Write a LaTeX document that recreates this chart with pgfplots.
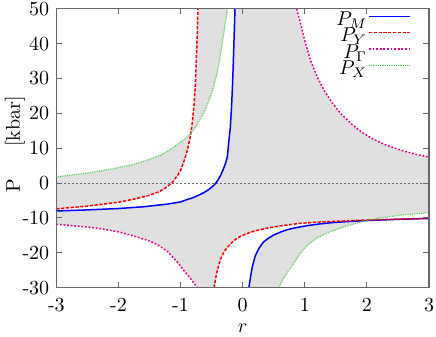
\documentclass[border=0pt]{standalone}
\usepackage{pgfplots}
\pgfplotsset{compat=1.18}
\definecolor{cX}{rgb}{0.3,0.8,0.3}
\definecolor{cY}{rgb}{1,0,0}
\definecolor{shade}{gray}{0.88}
\begin{document}
\begin{tikzpicture}
\begin{axis}[
  scale only axis, width=186.5pt, height=139.5pt,
  xmin=-3, xmax=3, ymin=-30, ymax=50,
  axis on top,
  tick align=inside, major tick length=2.8pt,
  xtick={-3,-2,-1,0,1,2,3}, xticklabels={-3,-2,-1,0,1,2,3},
  ytick={-30,-20,-10,0,10,20,30,40,50}, yticklabels={-30,-20,-10,0,10,20,30,40,50},
  axis line style={black!60, line width=0.6pt},
  every tick/.style={black!60, line width=0.5pt},
  xticklabel style={inner sep=1pt, yshift=-4.3pt},
  yticklabel style={inner sep=1pt, xshift=-2.4pt},
  xlabel={$r$}, xlabel style={at={(axis description cs:0.5,0)}, anchor=north, inner sep=2pt, yshift=-16pt},
  ylabel={P\hspace{16pt}[kbar]}, ylabel style={at={(axis description cs:-0.111,0.514)}, anchor=center, inner sep=2.5pt},
  legend style={draw=none, fill=none, at={(axis description cs:0.952,0.99)}, anchor=north east,
    inner sep=0pt, row sep=-0.2pt, column sep=0.6pt, nodes={inner sep=0pt}},
  legend plot pos=right, legend cell align=right,
  legend image code/.code={\draw[#1] (0pt,2pt) -- (20.5pt,2pt);},
  legend entries={$P_M$,$P_Y$,$P_\Gamma$,$P_X$},
]
\addlegendimage{blue, line width=0.75pt}
\addlegendimage{cY, line width=0.75pt, dash pattern=on 1.6pt off 0.8pt}
\addlegendimage{magenta, line width=0.75pt, dash pattern=on 0.9pt off 0.9pt}
\addlegendimage{cX, line width=0.6pt, dash pattern=on 0.4pt off 0.5pt}
% shaded regions (even-odd combination of the regions bounded by the four curves)
\addplot[fill=shade, draw=none, even odd rule, forget plot] coordinates {
(-3,-30)
(-3,-8.0) (-2.5,-7.7) (-2.0,-7.3) (-1.6,-6.8) (-1.2,-6.0) (-1.0,-5.4) (-0.89,-4.7) (-0.8,-4.2) (-0.7,-3.4) (-0.62,-2.7) (-0.55,-1.9) (-0.5,-1.2) (-0.45,-0.4) (-0.4,0.8) (-0.35,2.4) (-0.3,4.5) (-0.27,6.0) (-0.246,7.6) (-0.22,12.5) (-0.2,15.8) (-0.18,21.5) (-0.165,27.5) (-0.15,35) (-0.137,42.5) (-0.124,50)
(3,50)
(3.0,-10.15) (2.5,-10.4) (2.0,-10.75) (1.75,-11.0) (1.47,-11.3) (1.25,-11.7) (1.04,-12.2) (0.8,-13.0) (0.66,-13.7) (0.5,-14.9) (0.4,-16.0) (0.33,-17) (0.26,-18.8) (0.2,-21) (0.156,-24) (0.13,-26.5) (0.10,-30)
(-3,-30)
(-3,-7.4) (-2.5,-6.6) (-2.0,-5.5) (-1.75,-4.6) (-1.5,-3.5) (-1.35,-2.5) (-1.25,-1.5) (-1.13,0.2) (-1.05,2.2) (-1.0,3.6) (-0.95,6.0) (-0.9,8.8) (-0.85,12.6) (-0.81,17.5) (-0.78,23) (-0.76,29) (-0.745,36) (-0.73,43.5) (-0.72,50)
(3,50)
(3.0,-10.1) (2.5,-10.35) (2.0,-10.6) (1.6,-10.9) (1.2,-11.2) (0.9,-11.6) (0.6,-12.3) (0.4,-12.9) (0.2,-13.7) (0.1,-14.3) (0,-15.0) (-0.1,-15.9) (-0.2,-17.5) (-0.3,-19.7) (-0.36,-22) (-0.4,-24.5) (-0.43,-26.8) (-0.46,-30)
(-3,-30)
(-3,1.8) (-2.5,2.9) (-2.12,4.0) (-1.75,5.4) (-1.5,6.8) (-1.3,8.2) (-1.1,10.4) (-0.95,12.4) (-0.84,14.1) (-0.75,16.3) (-0.675,18.5) (-0.6,21.2) (-0.54,23.8) (-0.49,26.3) (-0.42,31.0) (-0.38,34.5) (-0.35,37.8) (-0.3,43.5) (-0.27,47) (-0.246,50)
(3,50)
(3.0,-8.5) (2.8,-8.8) (2.54,-9.2) (2.25,-9.9) (2.0,-10.7) (1.8,-11.7) (1.575,-12.9) (1.4,-14.0) (1.2,-15.7) (1.05,-17.7) (0.93,-20.1) (0.77,-24.4) (0.65,-27.5) (0.585,-30)
(-3,-30)
(-3,-11.8) (-2.5,-12.6) (-2.28,-13.1) (-2.0,-14.0) (-1.75,-15.2) (-1.5,-16.6) (-1.37,-17.7) (-1.2,-19.8) (-1.05,-22.7) (-0.95,-25.0) (-0.84,-27.4) (-0.73,-30)
(-3,-30)
(3,-30) (3,50)
(0.87,50) (0.93,45.9) (1.0,40.8) (1.09,35.3) (1.2,30.5) (1.31,26.6) (1.45,22.8) (1.58,19.9) (1.75,17.0) (1.9,14.8) (2.1,12.6) (2.27,11.2) (2.45,10.0) (2.65,8.9) (2.82,8.1) (3.0,7.5)
(3,50) (3,-30) (-3,-30)
};
% zero line
\addplot[black!60, line width=0.4pt, dash pattern=on 1pt off 1pt, forget plot] coordinates {(-3,0) (3,0)};
% P_M
\addplot[blue, line width=0.75pt, forget plot] coordinates {
(-3,-8.0) (-2.5,-7.7) (-2.0,-7.3) (-1.6,-6.8) (-1.2,-6.0) (-1.0,-5.4) (-0.89,-4.7) (-0.8,-4.2) (-0.7,-3.4) (-0.62,-2.7) (-0.55,-1.9) (-0.5,-1.2) (-0.45,-0.4) (-0.4,0.8) (-0.35,2.4) (-0.3,4.5) (-0.27,6.0) (-0.246,7.6) (-0.22,12.5) (-0.2,15.8) (-0.18,21.5) (-0.165,27.5) (-0.15,35) (-0.137,42.5) (-0.124,50)
};
\addplot[blue, line width=0.75pt, forget plot] coordinates {
(0.10,-30) (0.13,-26.5) (0.156,-24) (0.2,-21) (0.26,-18.8) (0.33,-17) (0.4,-16.0) (0.5,-14.9) (0.66,-13.7) (0.8,-13.0) (1.04,-12.2) (1.25,-11.7) (1.47,-11.3) (1.75,-11.0) (2.0,-10.75) (2.5,-10.4) (3.0,-10.15)
};
% P_Y
\addplot[cY, line width=0.75pt, dash pattern=on 1.6pt off 0.8pt, forget plot] coordinates {
(-3,-7.4) (-2.5,-6.6) (-2.0,-5.5) (-1.75,-4.6) (-1.5,-3.5) (-1.35,-2.5) (-1.25,-1.5) (-1.13,0.2) (-1.05,2.2) (-1.0,3.6) (-0.95,6.0) (-0.9,8.8) (-0.85,12.6) (-0.81,17.5) (-0.78,23) (-0.76,29) (-0.745,36) (-0.73,43.5) (-0.72,50)
};
\addplot[cY, line width=0.75pt, dash pattern=on 1.6pt off 0.8pt, forget plot] coordinates {
(-0.46,-30) (-0.43,-26.8) (-0.4,-24.5) (-0.36,-22) (-0.3,-19.7) (-0.2,-17.5) (-0.1,-15.9) (0,-15.0) (0.1,-14.3) (0.2,-13.7) (0.4,-12.9) (0.6,-12.3) (0.9,-11.6) (1.2,-11.2) (1.6,-10.9) (2.0,-10.6) (2.5,-10.35) (3.0,-10.1)
};
% P_Gamma
\addplot[magenta, line width=0.75pt, dash pattern=on 0.9pt off 0.9pt, forget plot] coordinates {
(-3,-11.8) (-2.5,-12.6) (-2.28,-13.1) (-2.0,-14.0) (-1.75,-15.2) (-1.5,-16.6) (-1.37,-17.7) (-1.2,-19.8) (-1.05,-22.7) (-0.95,-25.0) (-0.84,-27.4) (-0.73,-30)
};
\addplot[magenta, line width=0.75pt, dash pattern=on 0.9pt off 0.9pt, forget plot] coordinates {
(0.87,50) (0.93,45.9) (1.0,40.8) (1.09,35.3) (1.2,30.5) (1.31,26.6) (1.45,22.8) (1.58,19.9) (1.75,17.0) (1.9,14.8) (2.1,12.6) (2.27,11.2) (2.45,10.0) (2.65,8.9) (2.82,8.1) (3.0,7.5)
};
% P_X
\addplot[cX, line width=0.6pt, dash pattern=on 0.4pt off 0.5pt, forget plot] coordinates {
(-3,1.8) (-2.5,2.9) (-2.12,4.0) (-1.75,5.4) (-1.5,6.8) (-1.3,8.2) (-1.1,10.4) (-0.95,12.4) (-0.84,14.1) (-0.75,16.3) (-0.675,18.5) (-0.6,21.2) (-0.54,23.8) (-0.49,26.3) (-0.42,31.0) (-0.38,34.5) (-0.35,37.8) (-0.3,43.5) (-0.27,47) (-0.246,50)
};
\addplot[cX, line width=0.6pt, dash pattern=on 0.4pt off 0.5pt, forget plot] coordinates {
(0.585,-30) (0.65,-27.5) (0.77,-24.4) (0.93,-20.1) (1.05,-17.7) (1.2,-15.7) (1.4,-14.0) (1.575,-12.9) (1.8,-11.7) (2.0,-10.7) (2.25,-9.9) (2.54,-9.2) (2.8,-8.8) (3.0,-8.5)
};
\end{axis}
\end{tikzpicture}
\end{document}
